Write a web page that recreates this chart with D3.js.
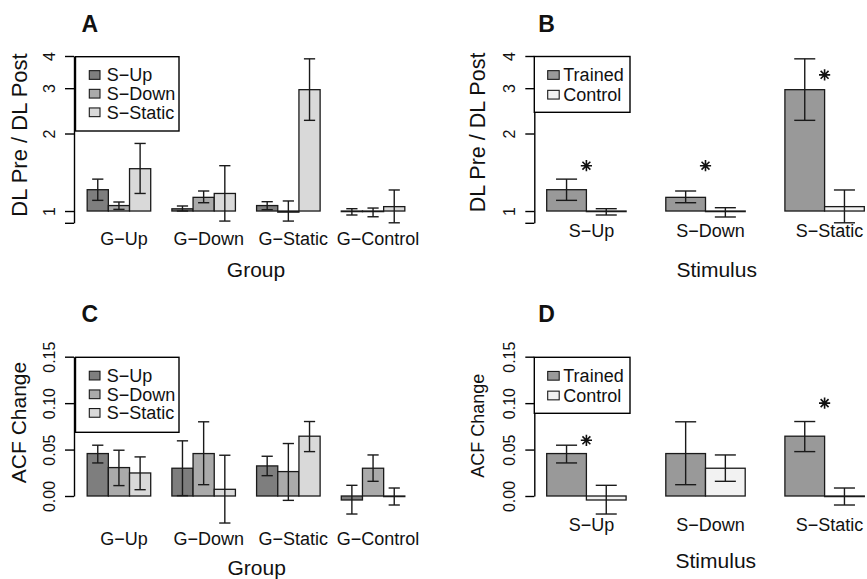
<!DOCTYPE html>
<html>
<head>
<meta charset="utf-8">
<script src="https://cdn.jsdelivr.net/npm/d3@7"></script>
<style>
body { margin: 0; background: #fff; }
svg { display: block; font-family: "Liberation Sans", Arial, Helvetica, sans-serif; }
</style>
</head>
<body>
<script>
//////////////////////////////////////////////////////////////////////////////
// Data

var groups = ["G−Up", "G−Down", "G−Static", "G−Control"];
var stimuli = ["S−Up", "S−Down", "S−Static"];
var conditions = ["Trained", "Control"];

// A: DL pre / DL post, rows = group, cols = stimulus
var ratioMean = [[1.21, 1.05, 1.46], [1.02, 1.13, 1.17], [1.05, 0.99, 2.96], [0.995, 0.995, 1.04]];
var ratioLow  = [[1.10, 1.015, 1.17], [1.00, 1.077, 0.914], [1.012, 0.914, 2.25], [0.965, 0.95, 0.90]];
var ratioHigh = [[1.33, 1.084, 1.83], [1.046, 1.196, 1.50], [1.087, 1.094, 3.90], [1.021, 1.027, 1.207]];

// B: rows = stimulus, cols = trained / control
var ratioStimMean = [[1.21, 0.995], [1.13, 0.995], [2.96, 1.04]];
var ratioStimLow  = [[1.10, 0.965], [1.077, 0.948], [2.25, 0.90]];
var ratioStimHigh = [[1.33, 1.021], [1.196, 1.030], [3.90, 1.207]];
var ratioStars = [1.5, 1.5, 3.38];

// C: ACF change, rows = group, cols = stimulus
var acfMean = [[0.0457, 0.0306, 0.0248], [0.0299, 0.0457, 0.0072], [0.0324, 0.0263, 0.0644], [-0.0043, 0.0299, -0.0005]];
var acfLow  = [[0.0356, 0.0112, 0.0068], [0.0004, 0.0122, -0.0291], [0.0219, -0.0047, 0.0478], [-0.0194, 0.0158, -0.0097]];
var acfHigh = [[0.0547, 0.0493, 0.0421], [0.0594, 0.0799, 0.0439], [0.0428, 0.0565, 0.0802], [0.0115, 0.0442, 0.0086]];

// D: rows = stimulus, cols = trained / control
var acfStimMean = [[0.0457, -0.0043], [0.0457, 0.0299], [0.0644, -0.0005]];
var acfStimLow  = [[0.0356, -0.0194], [0.0122, 0.0158], [0.0478, -0.0097]];
var acfStimHigh = [[0.0547, 0.0115], [0.0799, 0.0442], [0.0802, 0.0086]];
var acfStars = [0.06, null, 0.10];

var ratioTicks = [0.9, 1, 2, 3, 4];
var ratioTickLabels = ["", "1", "2", "3", "4"];
var acfTicks = [0, 0.05, 0.10, 0.15];
var acfTickLabels = ["0.00", "0.05", "0.10", "0.15"];

//////////////////////////////////////////////////////////////////////////////
// Global stuff

var svg = d3.select("body").append("svg")
    .attr("width", 867)
    .attr("height", 579);

var yRatio = d3.scaleLog().domain([0.9, 4]).range([222.8, 56]);
var yAcf = d3.scaleLinear().domain([0, 0.15]).range([496, 356.7]);

var stimFills = ["#7e7e7e", "#aaaaaa", "#d9d9d9"];
var condFills = ["#999999", "#f2f2f2"];
var ink = "#1a1a1a";

function starPath(r) {
    var k = r * 0.7071;
    return "M" + (-r) + ",0H" + r + "M0," + (-r) + "V" + r +
        "M" + (-k) + "," + (-k) + "L" + k + "," + k +
        "M" + (-k) + "," + k + "L" + k + "," + (-k);
}

function drawPanel(p) {
    var g = svg.append("g");
    var x = d3.scaleBand().domain(p.cats).range(p.xRange)
        .paddingInner(p.pad).paddingOuter(p.pad);
    var xs = d3.scaleBand().domain(p.series).range([0, x.bandwidth()]);
    var y = p.y, y0 = y(p.base);

    var rows = [];
    p.cats.forEach(function(c, i) {
        p.series.forEach(function(s, j) {
            rows.push({c: c, s: s, j: j, v: p.mean[i][j], lo: p.low[i][j], hi: p.high[i][j]});
        });
    });

    // bars
    g.selectAll("rect.bar").data(rows).enter().append("rect")
        .attr("class", "bar")
        .attr("x", function(d) { return x(d.c) + xs(d.s); })
        .attr("width", xs.bandwidth())
        .attr("y", function(d) { return Math.min(y(d.v), y0); })
        .attr("height", function(d) { return Math.max(Math.abs(y(d.v) - y0), 0.6); })
        .attr("fill", function(d) { return p.fills[d.j]; })
        .attr("stroke", ink)
        .attr("stroke-width", 1.3);

    // error bars
    var cap = xs.bandwidth() * 0.265;
    var eb = g.selectAll("g.err").data(rows).enter().append("g")
        .attr("class", "err")
        .attr("transform", function(d) { return "translate(" + (x(d.c) + xs(d.s) + xs.bandwidth() / 2) + ",0)"; });
    eb.append("line")
        .attr("y1", function(d) { return y(d.lo); })
        .attr("y2", function(d) { return y(d.hi); });
    eb.append("line").attr("x1", -cap).attr("x2", cap)
        .attr("y1", function(d) { return y(d.lo); })
        .attr("y2", function(d) { return y(d.lo); });
    eb.append("line").attr("x1", -cap).attr("x2", cap)
        .attr("y1", function(d) { return y(d.hi); })
        .attr("y2", function(d) { return y(d.hi); });
    eb.selectAll("line").attr("stroke", ink).attr("stroke-width", 1.4);

    // significance stars
    if (p.stars) {
        var st = p.cats.map(function(c, i) { return {c: c, v: p.stars[i]}; })
            .filter(function(d) { return d.v != null; });
        g.selectAll("path.star").data(st).enter().append("path")
            .attr("class", "star")
            .attr("transform", function(d) { return "translate(" + (x(d.c) + x.bandwidth() / 2) + "," + y(d.v) + ")"; })
            .attr("d", starPath(5.6))
            .attr("stroke", "#111")
            .attr("stroke-width", 1.6);
    }

    // y axis
    var yAxis = d3.axisLeft(y)
        .tickValues(p.ticks)
        .tickFormat(function(d) { return p.tickLabels[p.ticks.indexOf(d)]; })
        .tickSizeInner(9)
        .tickSizeOuter(0);
    var ag = g.append("g")
        .attr("transform", "translate(" + p.axisX + ",0)")
        .call(yAxis);
    ag.select(".domain").attr("stroke", "#000").attr("stroke-width", 1.4);
    ag.selectAll(".tick line").attr("stroke", "#000").attr("stroke-width", 1.4);
    ag.selectAll(".tick text")
        .attr("x", null)
        .attr("dy", "0.35em")
        .attr("text-anchor", "middle")
        .attr("transform", "translate(-25,0) rotate(-90)")
        .attr("fill", "#111")
        .attr("font-size", 16)
        .attr("font-family", "Liberation Sans, Arial, sans-serif");

    // category labels
    var xAxis = d3.axisBottom(x).tickSize(0).tickPadding(0);
    var xg = g.append("g")
        .attr("transform", "translate(5," + p.catTop + ")")
        .call(xAxis);
    xg.select(".domain").remove();
    xg.selectAll(".tick text")
        .attr("fill", "#111")
        .attr("font-size", 18)
        .attr("font-family", "Liberation Sans, Arial, sans-serif");

    // titles
    g.append("text")
        .attr("x", p.letterX).attr("y", p.letterY)
        .attr("font-size", 23).attr("font-weight", "bold").attr("fill", "#111")
        .text(p.letter);
    g.append("text")
        .attr("x", p.xTitle[0]).attr("y", p.xTitle[1])
        .attr("text-anchor", "middle")
        .attr("font-size", 21).attr("fill", "#111")
        .text(p.xTitleText);
    g.append("text")
        .attr("transform", "translate(" + p.yTitle[0] + "," + p.yTitle[1] + ") rotate(-90)")
        .attr("text-anchor", "middle")
        .attr("dy", "0.35em")
        .attr("font-size", p.yTitle[2]).attr("fill", "#111")
        .text(p.yTitleText);

    // legend
    var L = p.legend;
    var lg = g.append("g");
    lg.append("rect")
        .attr("x", L.box[0]).attr("y", L.box[1])
        .attr("width", L.box[2] - L.box[0]).attr("height", L.box[3] - L.box[1])
        .attr("fill", "#fff").attr("stroke", "#000").attr("stroke-width", 1.4);
    var items = lg.selectAll("g.item").data(p.series).enter().append("g")
        .attr("transform", function(d, i) { return "translate(0," + L.rows[i] + ")"; });
    items.append("rect")
        .attr("x", L.sq[0]).attr("y", -L.sq[2] / 2)
        .attr("width", L.sq[1]).attr("height", L.sq[2])
        .attr("fill", function(d, i) { return p.fills[i]; })
        .attr("stroke", ink).attr("stroke-width", 1.1);
    items.append("text")
        .attr("x", L.textX).attr("dy", "0.35em")
        .attr("font-size", 18).attr("fill", "#111")
        .text(function(d) { return d; });
}

//////////////////////////////////////////////////////////////////////////////
// Panels

drawPanel({
    letter: "A", letterX: 81.5, letterY: 32.3,
    cats: groups, series: stimuli, fills: stimFills,
    mean: ratioMean, low: ratioLow, high: ratioHigh,
    y: yRatio, base: 1, ticks: ratioTicks, tickLabels: ratioTickLabels,
    xRange: [66, 426], pad: 0.25, axisX: 74, catTop: 232.3,
    xTitleText: "Group", xTitle: [256, 276.7],
    yTitleText: "DL Pre / DL Post", yTitle: [19.5, 135, 22],
    legend: {box: [75.5, 56.7, 179, 131], sq: [89.3, 10.7, 8.7], textX: 106.7, rows: [75, 93.7, 112.3]}
});

drawPanel({
    letter: "B", letterX: 538.3, letterY: 32.3,
    cats: stimuli, series: conditions, fills: condFills,
    mean: ratioStimMean, low: ratioStimLow, high: ratioStimHigh, stars: ratioStars,
    y: yRatio, base: 1, ticks: ratioTicks, tickLabels: ratioTickLabels,
    xRange: [507, 904], pad: 1 / 3, axisX: 534.3, catTop: 223.8,
    xTitleText: "Stimulus", xTitle: [716.7, 276.7],
    yTitleText: "DL Pre / DL Post", yTitle: [477.5, 132.5, 21.5],
    legend: {box: [534.3, 56.5, 630, 112.3], sq: [547.7, 11.5, 8.7], textX: 563.3, rows: [75, 94.7]}
});

drawPanel({
    letter: "C", letterX: 81.5, letterY: 322.3,
    cats: groups, series: stimuli, fills: stimFills,
    mean: acfMean, low: acfLow, high: acfHigh,
    y: yAcf, base: 0, ticks: acfTicks, tickLabels: acfTickLabels,
    xRange: [66, 426], pad: 0.25, axisX: 74, catTop: 532.1,
    xTitleText: "Group", xTitle: [256.7, 574.5],
    yTitleText: "ACF Change", yTitle: [18.3, 422.5, 21],
    legend: {box: [75.5, 357.3, 179, 432.3], sq: [89.3, 10.7, 8.7], textX: 106.7, rows: [375.6, 394.3, 412.9]}
});

drawPanel({
    letter: "D", letterX: 538.3, letterY: 322.3,
    cats: stimuli, series: conditions, fills: condFills,
    mean: acfStimMean, low: acfStimLow, high: acfStimHigh, stars: acfStars,
    y: yAcf, base: 0, ticks: acfTicks, tickLabels: acfTickLabels,
    xRange: [507, 904], pad: 1 / 3, axisX: 534.3, catTop: 517.8,
    xTitleText: "Stimulus", xTitle: [715.8, 568.3],
    yTitleText: "ACF Change", yTitle: [477.5, 425.8, 18],
    legend: {box: [534.3, 357.3, 630, 413.3], sq: [547.7, 11.5, 8.7], textX: 563.3, rows: [375.8, 395.5]}
});
</script>
</body>
</html>
